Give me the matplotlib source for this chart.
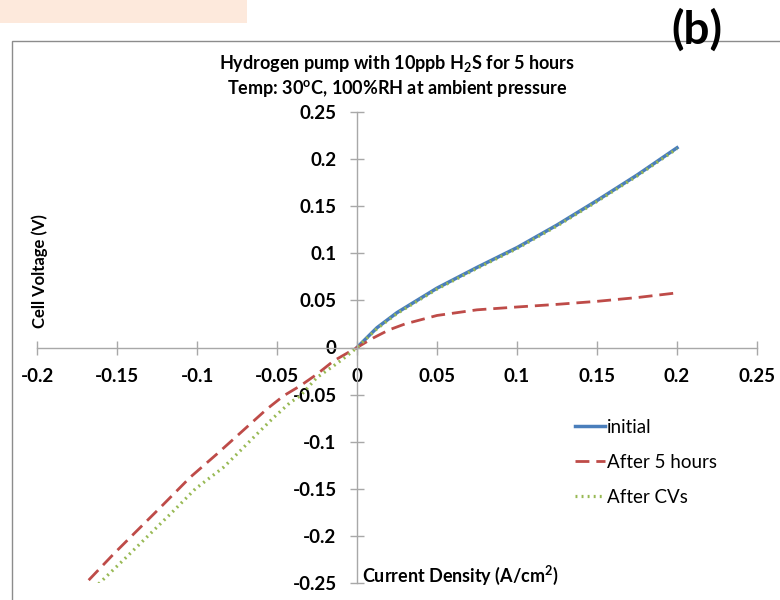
import matplotlib
matplotlib.use("Agg")
import matplotlib.pyplot as plt
from matplotlib.patches import Rectangle

plt.rcParams['font.family'] = ['Lato', 'DejaVu Sans']
plt.rcParams['mathtext.fontset'] = 'custom'
plt.rcParams['mathtext.rm'] = 'Lato'
plt.rcParams['mathtext.bf'] = 'Lato:bold'

# current density (A/cm2) and cell voltage (V)
initial_x = [0.0, 0.0125, 0.025, 0.05, 0.075, 0.1, 0.125, 0.15, 0.175, 0.2]
initial_y = [0.0, 0.021, 0.037, 0.063, 0.085, 0.106, 0.130, 0.156, 0.183, 0.212]

after5_x = [-0.1677, -0.152, -0.1396, -0.123, -0.1042, -0.0875, -0.0771, -0.0667,
            -0.0563, -0.0458, -0.0354, -0.025, -0.0146, 0.0, 0.01, 0.02, 0.03, 0.05,
            0.075, 0.1, 0.125, 0.15, 0.175, 0.2]
after5_y = [-0.247, -0.219, -0.198, -0.170, -0.1377, -0.113, -0.0971, -0.0812,
            -0.0653, -0.0512, -0.0406, -0.0283, -0.0142, 0.0, 0.010, 0.0187, 0.025, 0.034,
            0.040, 0.043, 0.0458, 0.049, 0.053, 0.058]

cv_x = [-0.1615, -0.145, -0.13, -0.115, -0.101, -0.0833, -0.0729, -0.0625, -0.052,
        -0.0417, -0.0354, -0.025, -0.0146, -0.00625, 0.0, 0.0125, 0.025, 0.05, 0.075,
        0.1, 0.125, 0.15, 0.175, 0.2]
cv_y = [-0.251, -0.224, -0.199, -0.174, -0.150, -0.127, -0.1095, -0.0918, -0.0742,
        -0.0583, -0.0513, -0.0318, -0.0195, -0.0089, 0.0, 0.020, 0.036, 0.062, 0.084,
        0.105, 0.129, 0.155, 0.182, 0.211]

xticks = [-0.2, -0.15, -0.1, -0.05, 0, 0.05, 0.1, 0.15, 0.2, 0.25]
yticks = [-0.25, -0.2, -0.15, -0.1, -0.05, 0, 0.05, 0.1, 0.15, 0.2, 0.25]

fig = plt.figure(figsize=(7.8, 6), dpi=100)

# page bits around the chart
fig.patches.append(Rectangle((0, 1 - 23/600.), 247/780., 23/600., transform=fig.transFigure,
                             facecolor='#fde9dc', edgecolor='none', zorder=-5))
fig.patches.append(Rectangle((12/780., -0.01), 0.999, 1 - 41/600. + 0.01, transform=fig.transFigure,
                             facecolor='white', edgecolor='#8c8c8c', linewidth=1, zorder=-5))
fig.text(697/780., 1 - 30/600., '(b)', fontsize=33, fontweight='bold', ha='center', va='center')

ax = fig.add_axes([37/780., 1 - 583/600., 720/780., 471/600.])
ax.patch.set_alpha(0)

ax.plot(initial_x, initial_y, color='#4a7ebb', lw=2.5, label='initial')
ax.plot(after5_x, after5_y, color='#be4b48', lw=2, dashes=(5, 2.5), label='After 5 hours')
ax.plot(cv_x, cv_y, color='#98b954', lw=2.3, linestyle=(0, (0.6, 1.3)), label='After CVs')

ax.set_xlim(-0.2, 0.25)
ax.set_ylim(-0.25, 0.25)
ax.set_xticks(xticks)
ax.set_yticks(yticks)
ax.set_xticklabels(['%g' % t for t in xticks])
ax.set_yticklabels(['%g' % t for t in yticks])

for s in ['top', 'right']:
    ax.spines[s].set_visible(False)
ax.spines['left'].set_position(('data', 0))
ax.spines['bottom'].set_position(('data', 0))
for s in ['left', 'bottom']:
    ax.spines[s].set_color('#a8a8a8')
    ax.spines[s].set_linewidth(1)
ax.tick_params(direction='inout', length=9.5, color='#a8a8a8', width=1, labelsize=13.5)
ax.tick_params(axis='x', pad=10)
ax.tick_params(axis='y', pad=10)
for lab in ax.get_xticklabels() + ax.get_yticklabels():
    lab.set_fontweight('bold')

fig.text(397/780., 1 - 64/600., 'Hydrogen pump with 10ppb H$_\\mathbf{2}$S for 5 hours',
         ha='center', va='center', fontsize=13, fontweight='bold')
fig.text(397/780., 1 - 88/600., 'Temp: 30$^\\mathbf{o}$C, 100%RH at ambient pressure',
         ha='center', va='center', fontsize=13, fontweight='bold')
fig.text(40/780., 1 - 271/600., 'Cell Voltage (V)', rotation=90, ha='center', va='center',
         fontsize=12, fontweight='bold')
fig.text(362/780., 1 - 575/600., 'Current Density (A/cm$^\\mathbf{2}$)', ha='left', va='center',
         fontsize=13, fontweight='bold')

ax.legend(loc='upper left', bbox_to_anchor=(575/780., 1 - 419/600.), bbox_transform=fig.transFigure,
          frameon=False, fontsize=13.5, handlelength=1.6, handletextpad=0.1, labelspacing=0.95,
          borderpad=0, borderaxespad=0)

fig.savefig('out.png', dpi=100)
